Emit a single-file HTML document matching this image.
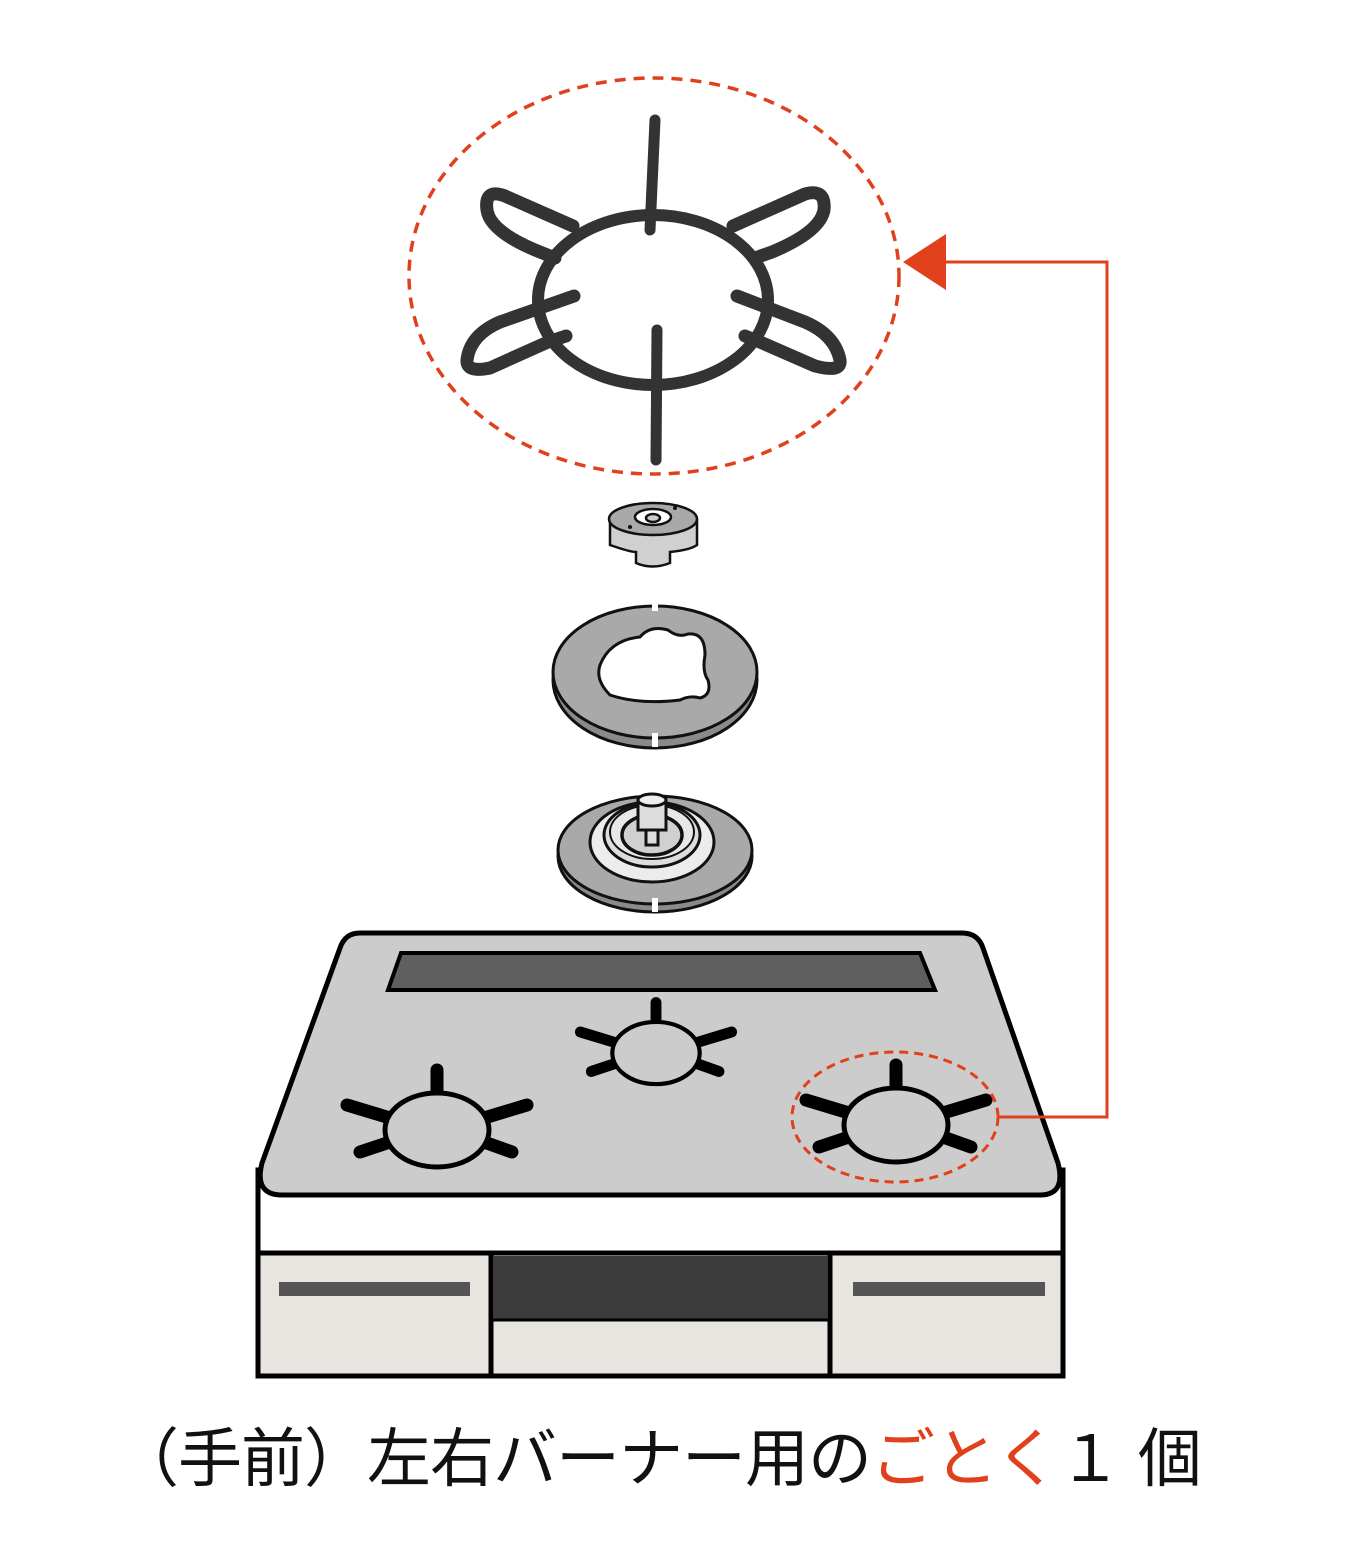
<!DOCTYPE html>
<html><head><meta charset="utf-8"><style>
html,body{margin:0;padding:0;background:#fff;width:1366px;height:1565px;overflow:hidden}
svg{position:absolute;left:0;top:0}
.t{position:absolute;left:115px;top:1408px;font-family:"Liberation Sans","Noto Sans CJK JP",sans-serif;font-size:64px;color:#111;letter-spacing:-1px;white-space:nowrap}
.t span{color:#e0401c}
</style></head><body>
<svg width="1366" height="1565" viewBox="0 0 1366 1565">
<defs>
<g id="bn">
<line x1="0" y1="-60" x2="0" y2="-40" stroke="#000" stroke-width="13" stroke-linecap="round"/>
<line x1="-90" y1="-25" x2="-47" y2="-12" stroke="#000" stroke-width="13" stroke-linecap="round"/>
<line x1="90" y1="-25" x2="47" y2="-12" stroke="#000" stroke-width="13" stroke-linecap="round"/>
<line x1="-77" y1="22" x2="-47" y2="12" stroke="#000" stroke-width="13" stroke-linecap="round"/>
<line x1="75" y1="22" x2="47" y2="12" stroke="#000" stroke-width="13" stroke-linecap="round"/>
<ellipse cx="0" cy="0" rx="52" ry="37" fill="#cccccc" stroke="#000" stroke-width="5"/>
</g>
</defs>
<ellipse cx="654" cy="276" rx="245" ry="198" fill="none" stroke="#e0401c" stroke-width="3.5" stroke-dasharray="11 8"/>
<g fill="none" stroke="#333" stroke-linecap="round" stroke-linejoin="round">
<ellipse cx="653" cy="300" rx="115" ry="85" stroke-width="12"/>
<line x1="655" y1="120" x2="650" y2="230" stroke-width="11"/>
<line x1="657" y1="330" x2="656" y2="460" stroke-width="11"/>
<path d="M573,226 L505,196 Q484,188 487,210 Q490,232 540,252 L555,258" stroke-width="13"/>
<path d="M733,226 L805,194 Q826,188 824,210 Q820,232 772,252 L755,258" stroke-width="13"/>
<path d="M574,296 L500,322 Q470,335 467,360 Q466,373 490,368 L548,342 L566,336" stroke-width="13"/>
<path d="M737,296 L805,322 Q835,335 840,360 Q842,373 815,366 L760,342 L745,336" stroke-width="13"/>
</g>
<g stroke="#111" stroke-width="2.5">
<path d="M610,520 L610,545 Q630,552 636,552 L636,563 Q652,570 670,563 L670,552 Q690,550 697,545 L697,520 Z" fill="#d0d0d0"/>
<ellipse cx="653" cy="519" rx="44" ry="16" fill="#a9a9a9"/>
<ellipse cx="653" cy="517" rx="18" ry="8" fill="#fff"/>
<ellipse cx="653" cy="518" rx="7" ry="4" fill="#ccc"/>
</g>
<circle cx="630" cy="527" r="2" fill="#111"/><circle cx="675" cy="508" r="2" fill="#111"/>
<g stroke="#111" stroke-width="3">
<ellipse cx="655" cy="680" rx="102" ry="68" fill="#8a8a8a"/>
<ellipse cx="655" cy="672" rx="102" ry="66" fill="#a9a9a9"/>
<path d="M600,665 Q610,640 640,637 Q650,625 668,630 Q678,638 688,634 Q705,632 705,655 Q702,672 708,680 Q712,695 700,698 Q690,695 680,700 Q640,705 610,695 Q595,680 600,665 Z" fill="#fff"/>
</g>
<rect x="652" y="603" width="6" height="8" fill="#fff"/><rect x="652" y="733" width="6" height="14" fill="#fff"/>
<g stroke="#111" stroke-width="3">
<ellipse cx="655" cy="856" rx="97" ry="56" fill="#8a8a8a"/>
<ellipse cx="655" cy="850" rx="97" ry="54" fill="#a9a9a9"/>
<ellipse cx="652" cy="842" rx="62" ry="40" fill="#ececec"/>
<ellipse cx="652" cy="835" rx="48" ry="32" fill="#ddd"/>
<ellipse cx="652" cy="832" rx="42" ry="27" fill="#e8e8e8" stroke-width="2"/>
<ellipse cx="652" cy="835" rx="30" ry="20" fill="#d0d0d0" stroke-width="3.5"/>
<rect x="646" y="825" width="12" height="20" fill="#ddd"/>
<rect x="638" y="800" width="28" height="30" fill="#ddd"/>
<ellipse cx="652" cy="800" rx="14" ry="6" fill="#eee"/>
</g>
<rect x="652" y="898" width="6" height="14" fill="#fff"/>
<rect x="258" y="1170" width="805" height="85" fill="#fff" stroke="#000" stroke-width="5"/>
<rect x="258" y="1253" width="805" height="123" fill="#e8e4df" stroke="#000" stroke-width="5"/>
<line x1="491" y1="1253" x2="491" y2="1376" stroke="#000" stroke-width="5"/>
<line x1="830" y1="1253" x2="830" y2="1376" stroke="#000" stroke-width="5"/>
<rect x="493" y="1256" width="335" height="63" fill="#3b3b3b"/>
<line x1="493" y1="1320" x2="828" y2="1320" stroke="#000" stroke-width="3"/>
<rect x="279" y="1282" width="191" height="14" fill="#555"/>
<rect x="853" y="1282" width="192" height="14" fill="#555"/>
<path d="M360,933 L962,933 Q978,933 983,948 L1058,1163 Q1066,1195 1040,1195 L282,1195 Q254,1195 262,1163 L340,948 Q345,933 360,933 Z" fill="#cccccc" stroke="#000" stroke-width="5"/>
<polygon points="401,953 920,953 935,990 388,990" fill="#5f5f5f" stroke="#000" stroke-width="4"/>
<use href="#bn" transform="translate(437,1130)"/>
<use href="#bn" transform="translate(656,1053) scale(0.84)"/>
<use href="#bn" transform="translate(896,1125)"/>
<ellipse cx="895" cy="1117" rx="103" ry="65" fill="none" stroke="#e0401c" stroke-width="3" stroke-dasharray="9 6"/>
<polyline points="998,1117 1107,1117 1107,262 940,262" fill="none" stroke="#e0401c" stroke-width="3"/>
<polygon points="903,262 946,234 946,290" fill="#e0401c"/>
</svg>
<div class="t">（手前）左右バーナー用の<span>ごとく</span>１ 個</div>
</body></html>
